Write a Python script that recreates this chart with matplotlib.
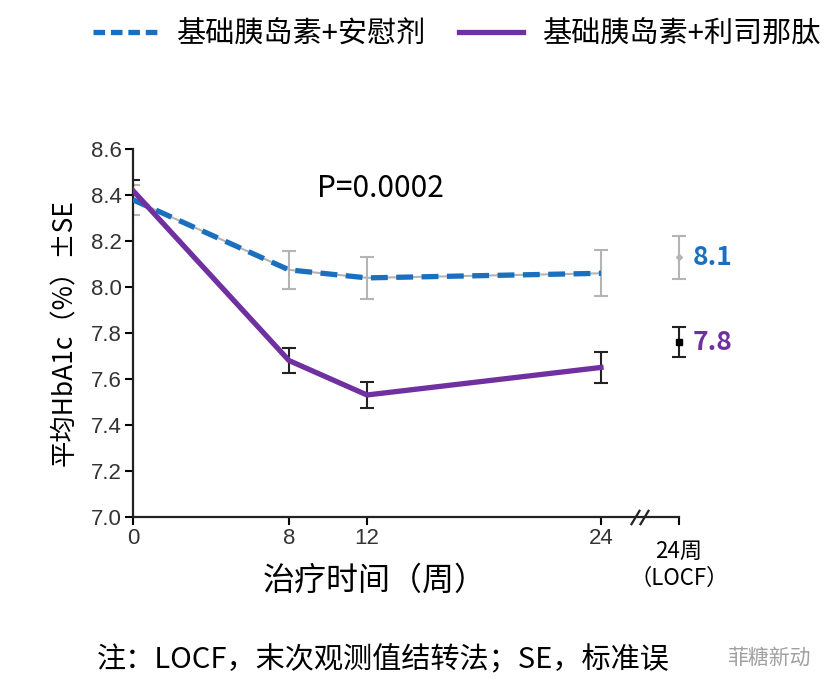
import numpy as np
import matplotlib
matplotlib.use('Agg')
import matplotlib.pyplot as plt
from matplotlib.lines import Line2D

plt.rcParams['font.family'] = ['Noto Sans CJK SC', 'DejaVu Sans']

# data
weeks = [0, 8, 12, 24]
locf_x = 28
placebo = [8.38, 8.075, 8.04, 8.06]
placebo_se = [0.065, 0.083, 0.09, 0.10]
placebo_locf = 8.13
placebo_locf_se = 0.093
lixi = [8.42, 7.68, 7.53, 7.65]
lixi_se = [0.045, 0.056, 0.055, 0.068]
lixi_locf = 7.76
lixi_locf_se = 0.065
yticks = [7.0, 7.2, 7.4, 7.6, 7.8, 8.0, 8.2, 8.4, 8.6]
xticks = [0, 8, 12, 24]
labels = ['基础胰岛素+安慰剂', '基础胰岛素+利司那肽']

blue = '#1a6fbf'
purple = '#7030a0'
grey = '#b4b4b4'

fig = plt.figure(figsize=(8.39, 6.89), dpi=100)
ax = fig.add_axes([0.1585, 0.2501, 0.6508, 0.5332])

# error bars
ax.errorbar(weeks, placebo, yerr=placebo_se, fmt='none', ecolor=grey, elinewidth=1.5, capsize=5, capthick=1.5, zorder=2)
ax.errorbar(weeks, lixi, yerr=lixi_se, fmt='none', ecolor='#222222', elinewidth=1.5, capsize=5, capthick=1.5, zorder=2)
ax.errorbar([locf_x], [placebo_locf], yerr=[placebo_locf_se], fmt='D', color=grey, ms=3, ecolor=grey,
            elinewidth=1.5, capsize=5, capthick=1.5, clip_on=False, zorder=3)
ax.errorbar([locf_x], [lixi_locf], yerr=[lixi_locf_se], fmt='s', color='black', ms=4, ecolor='#222222',
            elinewidth=1.5, capsize=5, capthick=1.5, clip_on=False, zorder=3)

# lines
ax.plot(weeks, placebo, color=grey, lw=1.5, zorder=3)
ax.plot(weeks, placebo, color=blue, lw=3.8, ls=(0, (3.2, 1.6)), zorder=4)
ax.plot(weeks, lixi, color='#222222', lw=1.5, zorder=3)
ax.plot(weeks, lixi, color=purple, lw=3.8, zorder=4)

ax.text(locf_x + 0.7, placebo_locf, '8.1', color=blue, fontsize=19, fontweight='bold', va='center', ha='left',
        family=['Noto Sans CJK SC'])
ax.text(locf_x + 0.7, lixi_locf, '7.8', color=purple, fontsize=19, fontweight='bold', va='center', ha='left',
        family=['Noto Sans CJK SC'])
ax.text(12.7, 8.43, 'P=0.0002', fontsize=21.5, ha='center', va='center')

ax.set_xlim(0, locf_x)
ax.set_ylim(7.0, 8.6)
ax.set_xticks(xticks + [locf_x])
ax.set_xticklabels([str(t) for t in xticks] + [''])
ax.set_yticks(yticks)
ax.set_yticklabels(['%.1f' % v for v in yticks])
ax.tick_params(direction='out', length=6, width=1.5, pad=2, labelsize=16, labelcolor='#333333')
for lab in ax.get_xticklabels() + ax.get_yticklabels():
    lab.set_family(['Liberation Sans'])
ax.spines['top'].set_visible(False)
ax.spines['right'].set_visible(False)
for s in ['left', 'bottom']:
    ax.spines[s].set_linewidth(1.6)
    ax.spines[s].set_color('#222222')

# axis break marks
ax.plot([25.75, 26.2], [7.0, 7.0], ls='none', marker=[(-0.6, -1), (0.6, 1)], ms=11, mew=1.6,
        color='#222222', clip_on=False, zorder=5)

ax.text(locf_x, 6.9, '24周\n（LOCF）', fontsize=16, ha='center', va='top', linespacing=1.25)
ax.set_xlabel('治疗时间（周）', fontsize=23)
ax.xaxis.set_label_coords(0.443, -0.13)
ax.set_ylabel('平均HbA1c（%）±SE', fontsize=19)
ax.yaxis.set_label_coords(-0.1, 0.5)

handles = [Line2D([], [], color=blue, lw=3.8, ls=(0, (2.2, 1.1))),
           Line2D([], [], color=purple, lw=3.8)]
fig.legend(handles, labels, loc='upper center', bbox_to_anchor=(0.545, 1.01), ncol=2, frameon=False,
           fontsize=21, handlelength=2.2, columnspacing=1.1, handletextpad=0.7)

fig.text(0.115, 0.042, '注：LOCF，末次观测值结转法；SE，标准误', fontsize=21, ha='left', va='center')
fig.text(0.966, 0.045, '菲糖新动', fontsize=15, ha='right', va='center', color='#a0a0a0')

fig.savefig('out.png', dpi=100, facecolor='white')
